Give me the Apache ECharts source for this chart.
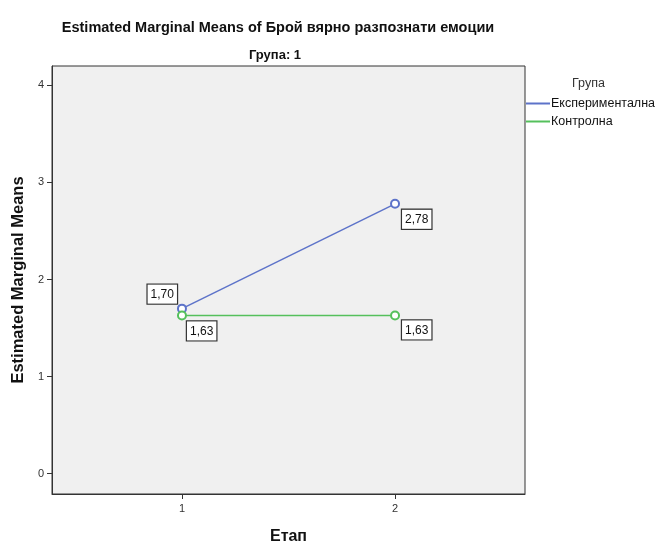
<!DOCTYPE html>
<html>
<head>
<meta charset="utf-8">
<script src="https://cdn.jsdelivr.net/npm/echarts@6/dist/echarts.min.js"></script>
<style>html,body{margin:0;padding:0;background:#fff}#c{width:657px;height:543px}</style>
</head>
<body>
<div id="c"></div>
<script>
const stages = [1, 2];
const yTicks = [0, 1, 2, 3, 4];
const seriesNames = ['Експериментална', 'Контролна'];
const expValues = [1.70, 2.78];
const ctrlValues = [1.63, 1.63];

const colors = ['#5d73c9', '#55c05c'];
const fmt = v => v.toFixed(2).replace('.', ',');
const font = 'Arial, "Liberation Sans", sans-serif';

// label placement per point (style, not data)
const labelPlace = [
  [{pos: [0, 0], align: 'right', va: 'bottom', off: [0, 0]}, {pos: ['100%', '100%'], align: 'left', va: 'top', off: [2, 1]}],
  [{pos: ['100%', '100%'], align: 'left', va: 'top', off: [0, 1]}, {pos: ['100%', '100%'], align: 'left', va: 'top', off: [2, 0]}]
];

function build(vals, si) {
  return vals.map((v, i) => ({
    value: [stages[i], v],
    label: {
      position: labelPlace[si][i].pos,
      align: labelPlace[si][i].align,
      verticalAlign: labelPlace[si][i].va,
      offset: labelPlace[si][i].off
    }
  }));
}

const chart = echarts.init(document.getElementById('c'));
chart.setOption({
  animation: false,
  title: [
    {text: 'Estimated Marginal Means of Брой вярно разпознати емоции', left: 273, textAlign: 'center', top: 15,
     textStyle: {fontFamily: font, fontSize: 14.5, fontWeight: 'bold', color: '#111'}},
    {text: 'Група: 1', left: 270, textAlign: 'center', top: 44,
     textStyle: {fontFamily: font, fontSize: 13, fontWeight: 'bold', color: '#111'}}
  ],
  graphic: [
    {type: 'text', left: 572, top: 77, style: {text: 'Група', font: '12.5px ' + font, fill: '#333'}}
  ],
  legend: {
    orient: 'vertical', left: 526, top: 97, itemGap: 5, padding: 0,
    itemWidth: 24, itemHeight: 2, icon: 'rect',
    textStyle: {fontFamily: font, fontSize: 12.5, color: '#111', padding: [0, 0, 0, -4]},
    data: seriesNames
  },
  grid: {left: 52, right: 132, top: 66, bottom: 49, outerBoundsMode: 'none', containLabel: false,
         show: true, backgroundColor: '#f0f0f0', borderColor: '#333', borderWidth: 1},
  xAxis: {
    type: 'value', min: 0.39, max: 2.61,
    name: 'Етап', nameLocation: 'middle', nameGap: 35,
    nameTextStyle: {fontFamily: font, fontSize: 16, fontWeight: 'bold', color: '#111'},
    axisLine: {show: true, onZero: false, lineStyle: {color: '#333'}},
    axisTick: {show: true, customValues: stages, length: 5, lineStyle: {color: '#333'}},
    axisLabel: {customValues: stages, fontFamily: font, fontSize: 11, color: '#333', margin: 9},
    splitLine: {show: false}
  },
  yAxis: {
    type: 'value', min: -0.21, max: 4.2,
    name: 'Estimated Marginal Means', nameLocation: 'middle', nameGap: 24,
    nameTextStyle: {fontFamily: font, fontSize: 16.5, fontWeight: 'bold', color: '#111'},
    axisLine: {show: true, onZero: false, lineStyle: {color: '#333'}},
    axisTick: {show: true, customValues: yTicks, length: 5, lineStyle: {color: '#333'}},
    axisLabel: {customValues: yTicks, fontFamily: font, fontSize: 11, color: '#333', margin: 8},
    splitLine: {show: false}
  },
  series: [expValues, ctrlValues].map((vals, si) => ({
    name: seriesNames[si],
    type: 'line',
    data: build(vals, si),
    color: colors[si],
    lineStyle: {width: 1.5, color: colors[si]},
    symbol: 'emptyCircle', symbolSize: 8,
    itemStyle: {color: colors[si], borderWidth: 1.2},
    label: {
      show: true,
      formatter: p => fmt(p.value[1]),
      fontFamily: font, fontSize: 12, color: '#111',
      backgroundColor: '#fff', borderColor: '#333', borderWidth: 1.2,
      padding: [4, 3, 3, 3]
    }
  }))
});
</script>
</body>
</html>
